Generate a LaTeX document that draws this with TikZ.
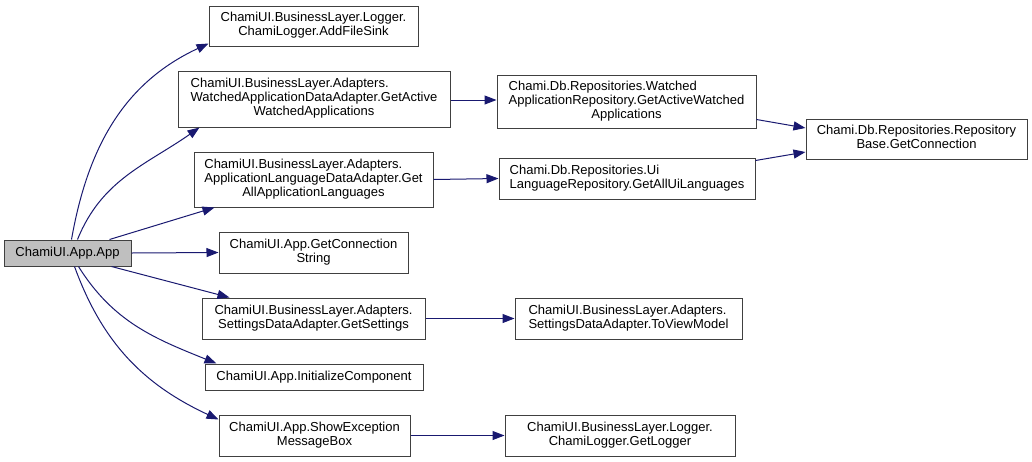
\documentclass[tikz,border=0pt]{standalone}
\usepackage{fontspec}
\setmainfont{Liberation Sans}
\usetikzlibrary{arrows.meta}
\definecolor{edgeblue}{HTML}{191970}
\tikzstyle{fn} = [draw=black!75, fill=white, line width=1pt, inner sep=0pt, font={\fontsize{13}{14}\selectfont}]
\tikzstyle{root} = [fill=black!25]
\tikzstyle{call} = [draw=edgeblue, line width=1pt, >={Triangle[length=12pt,width=9pt]}]
\newcommand{\fnlines}[2]{\begin{tabular}{@{}l@{}}#1\\\multicolumn{1}{@{}c@{}}{#2}\end{tabular}}

\begin{document}
\begin{tikzpicture}[x=1pt,y=-1pt]
    \useasboundingbox (0,0) rectangle (1032,461);
    \node[fn,root,minimum width=127pt,minimum height=26pt](0) at (67.5,253){ChamiUI.App.App};
    \node[fn,minimum width=209pt,minimum height=40pt](1) at (313.5,26){\fnlines{ChamiUI.BusinessLayer.Logger.}{ChamiLogger.AddFileSink}};
    \node[fn,minimum width=272pt,minimum height=56pt](2) at (314,99){\fnlines{ChamiUI.BusinessLayer.Adapters.\\WatchedApplicationDataAdapter.GetActive}{WatchedApplications}};
    \node[fn,minimum width=239pt,minimum height=55pt](3) at (313.5,179.5){\fnlines{ChamiUI.BusinessLayer.Adapters.\\ApplicationLanguageDataAdapter.Get}{AllApplicationLanguages}};
    \node[fn,minimum width=189pt,minimum height=41pt](4) at (313.5,252.5){\fnlines{ChamiUI.App.GetConnection}{String}};
    \node[fn,minimum width=223pt,minimum height=41pt](5) at (313.5,318.5){\fnlines{ChamiUI.BusinessLayer.Adapters.}{SettingsDataAdapter.GetSettings}};
    \node[fn,minimum width=218pt,minimum height=26pt](6) at (314,377){ChamiUI.App.InitializeComponent};
    \node[fn,minimum width=191pt,minimum height=41pt](7) at (314.5,435.5){\fnlines{ChamiUI.App.ShowException}{MessageBox}};
    \node[fn,minimum width=259pt,minimum height=53pt](8) at (626.5,101.5){\fnlines{Chami.Db.Repositories.Watched\\ApplicationRepository.GetActiveWatched}{Applications}};
    \node[fn,minimum width=256pt,minimum height=41pt](9) at (627,178.5){\fnlines{Chami.Db.Repositories.Ui}{LanguageRepository.GetAllUiLanguages}};
    \node[fn,minimum width=221pt,minimum height=40pt](10) at (916.5,139){\fnlines{Chami.Db.Repositories.Repository}{Base.GetConnection}};
    \node[fn,minimum width=227pt,minimum height=41pt](11) at (628.5,318.5){\fnlines{ChamiUI.BusinessLayer.Adapters.}{SettingsDataAdapter.ToViewModel}};
    \node[fn,minimum width=230pt,minimum height=41pt](12) at (620,435.5){\fnlines{ChamiUI.BusinessLayer.Logger.}{ChamiLogger.GetLogger}};
    % calls from the root
    \draw[call,->]([xshift=4pt]0.north)to[out=80,in=205]([yshift=3pt]1.south west);
    \draw[call,->]([xshift=10pt]0.north)to[out=68,in=215]([xshift=22pt]2.south west);
    \draw[call,->]([xshift=42pt]0.north)--([xshift=21pt]3.south west);
    \draw[call,->](0.east)--(4.west);
    \draw[call,->]([xshift=44pt]0.south)--([xshift=28pt]5.north west);
    \draw[call,->]([xshift=11pt]0.south)to[out=-58,in=158]([xshift=12pt]6.north west);
    \draw[call,->]([xshift=7pt]0.south)to[out=-70,in=155]([yshift=-5pt]7.north west);
    % second level
    \draw[call,->]([yshift=-1pt]2.east)--([yshift=1.5pt]8.west);
    \draw[call,->](3.east)--(9.west);
    \draw[call,->](5.east)--(11.west);
    \draw[call,->](7.east)--(12.west);
    \draw[call,->]([yshift=-18pt]8.east)--([yshift=11pt]10.west);
    \draw[call,->]([yshift=18pt]9.east)--([yshift=-13pt]10.west);
\end{tikzpicture}
\end{document}
